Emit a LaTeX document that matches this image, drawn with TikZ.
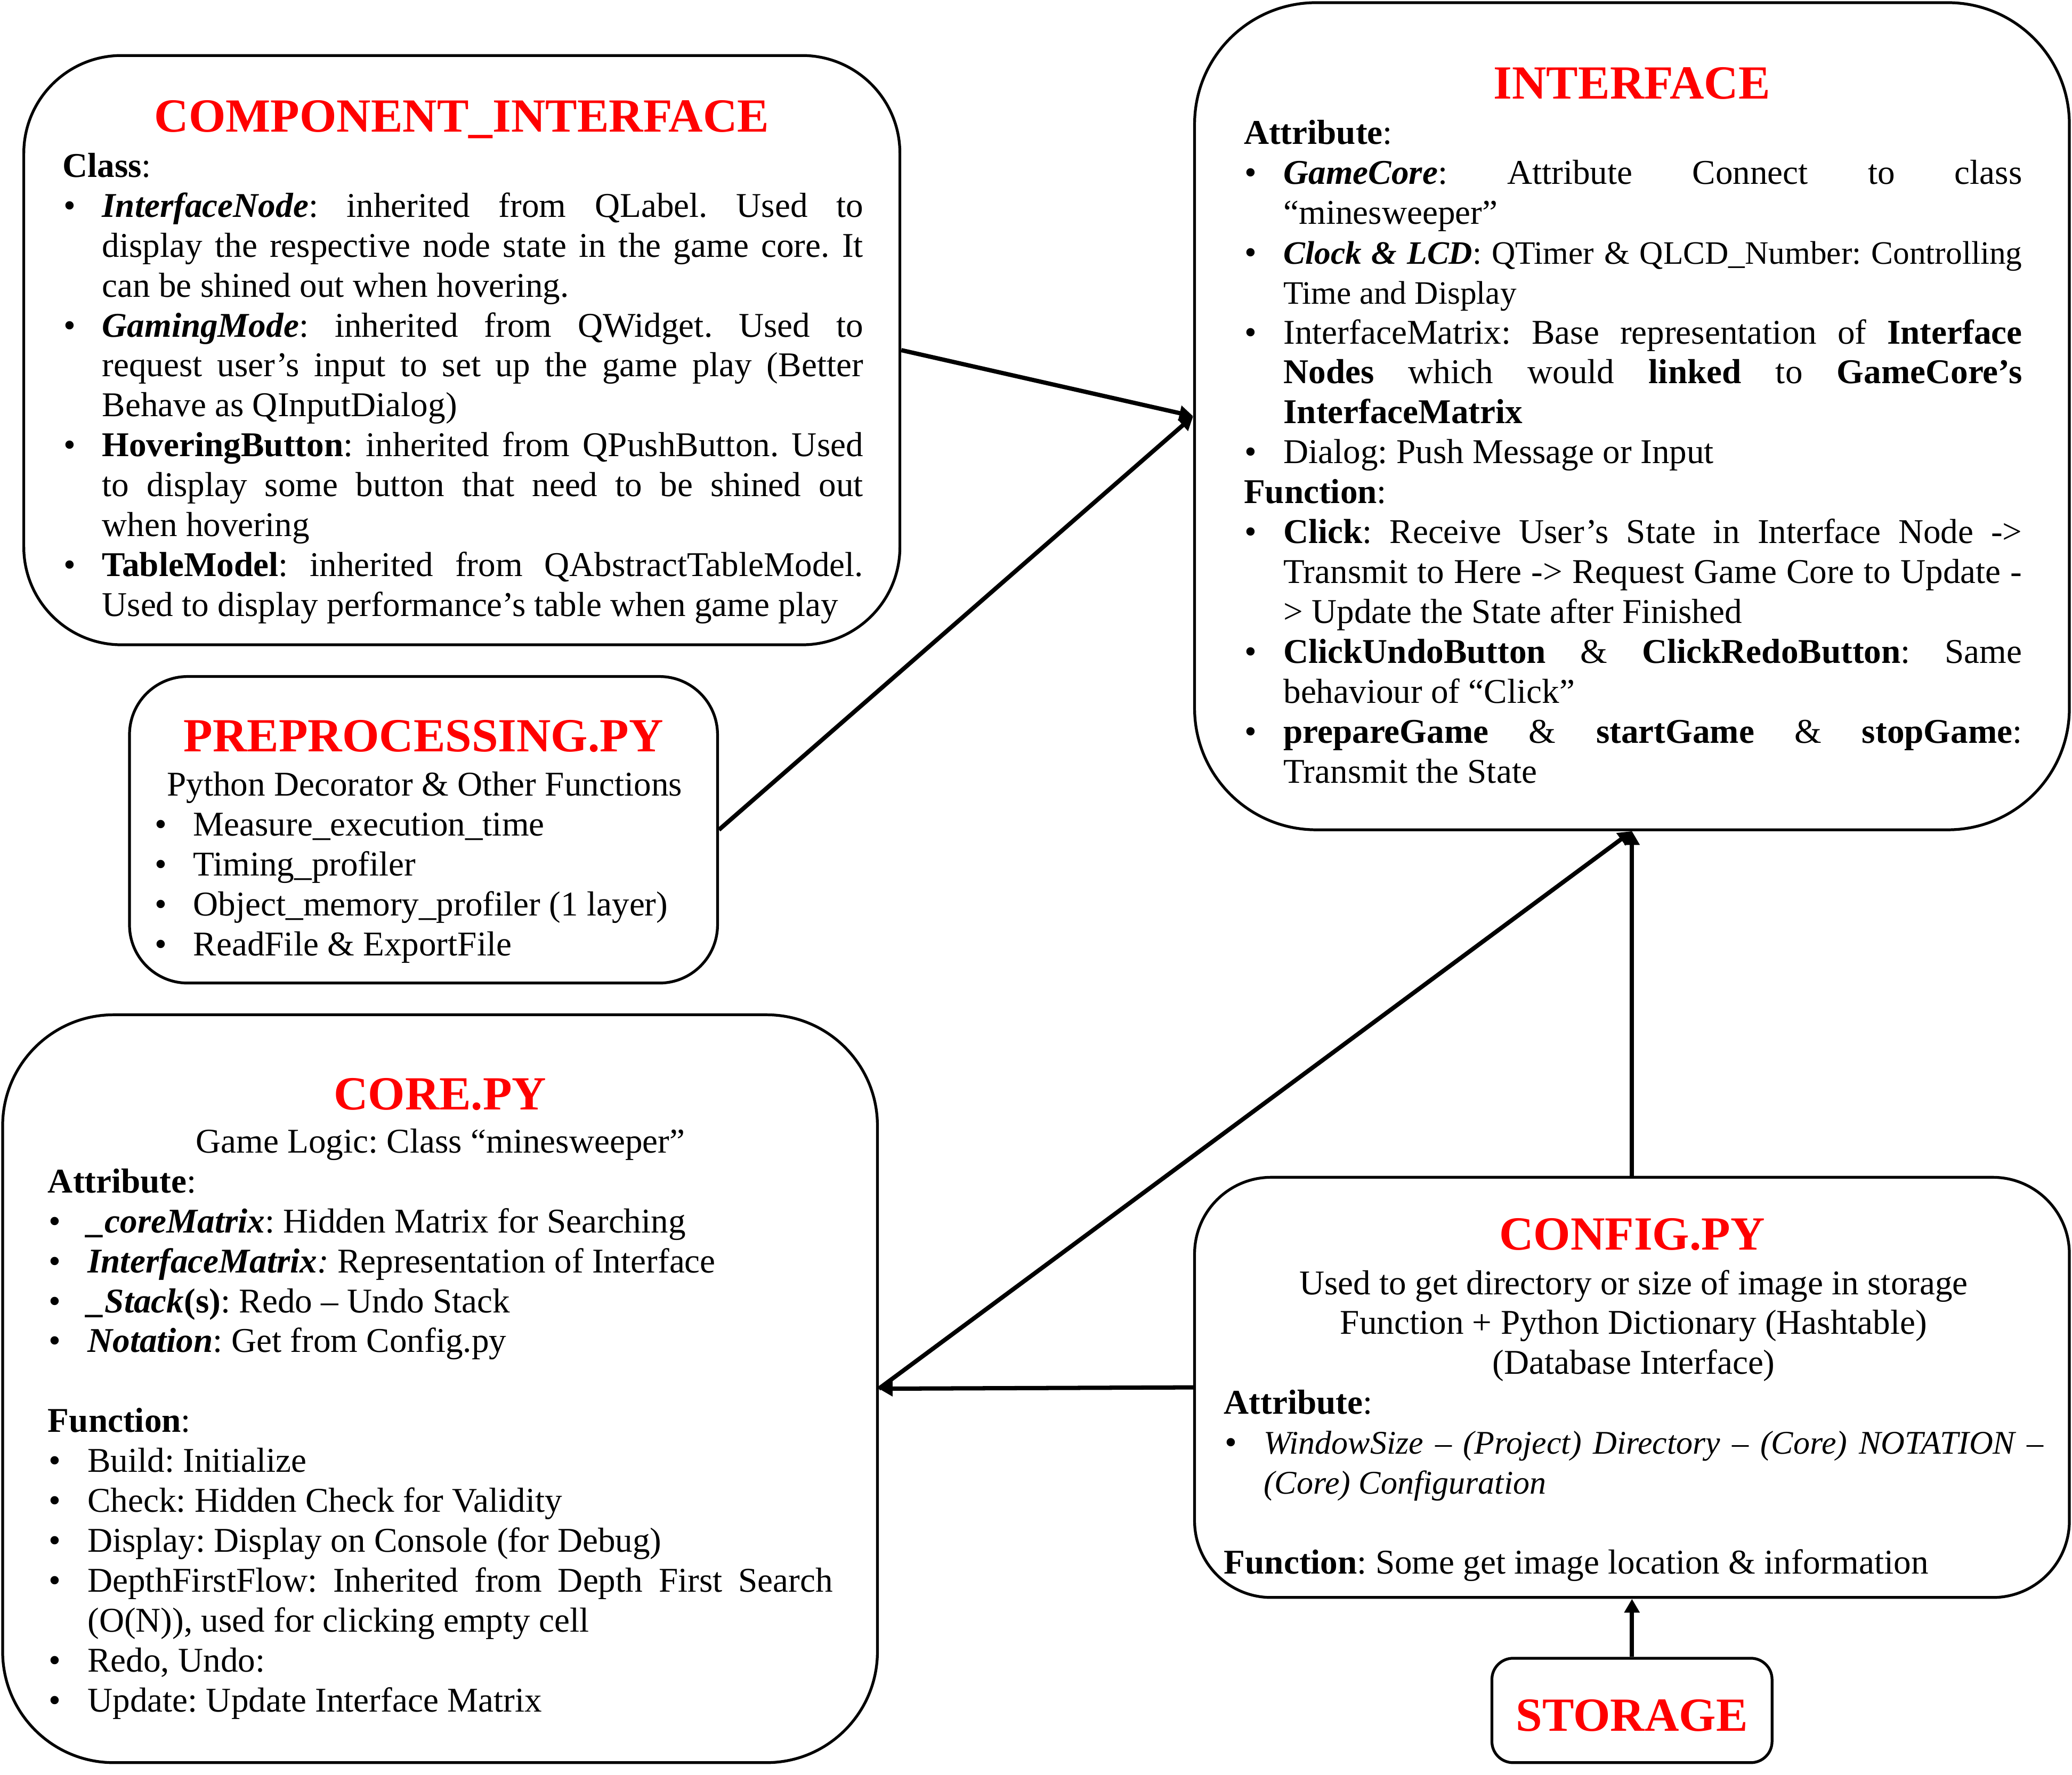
\documentclass[tikz,border=0pt]{standalone}
\usepackage{fontspec}
\setmainfont{Liberation Serif}
\usepackage{enumitem}
\usetikzlibrary{arrows.meta}

\setlist[itemize]{label=\textbullet, nosep, leftmargin=0.75cm, labelsep=0.5cm}
\newcommand{\bodysize}{\fontsize{18.7pt}{21.5pt}\selectfont}
\newcommand{\titlesize}{\fontsize{25.6pt}{30pt}\selectfont}
\tolerance=10000
\hbadness=10000
\hyphenpenalty=10000
\frenchspacing

\begin{document}
\begin{tikzpicture}[
    >={Triangle[length=0.26cm, width=0.28cm]},
    box/.style      = {draw=black, line width=1.5pt, rounded corners=#1,
                       inner sep=0pt},
    box/.default    = 1.8cm,
    boxtitle/.style = {font=\titlesize\bfseries, text=red, anchor=base,
                       inner sep=0pt},
    boxtext/.style  = {font=\bodysize, align=justify, anchor=base west,
                       inner sep=0pt},
    link/.style     = {->, line width=2.3pt}
  ]

\useasboundingbox (0,0) rectangle (39.2,-33.575);

% =========================================================
% COMPONENT_INTERFACE (top left)
% =========================================================
\node[box=1.85cm, minimum width=16.575cm, minimum height=11.15cm]
  (ci) at (8.7375,-6.625) {};
\node[boxtitle] (ci-title) at (8.7375,-2.5) {COMPONENT\_INTERFACE};
\node[boxtext, text width=15.15cm] (ci-text) at (1.175,-3.35) {%
  \textbf{Class}:
  \begin{itemize}
    \item \textbf{\textit{InterfaceNode}}: inherited from QLabel. Used to\linebreak
      display the respective node state in the game core. It\linebreak
      can be shined out when hovering.
    \item \textbf{\textit{GamingMode}}: inherited from QWidget. Used to\linebreak
      request user's input to set up the game play (Better\linebreak
      Behave as QInputDialog)
    \item \textbf{HoveringButton}: inherited from QPushButton. Used\linebreak
      to display some button that need to be shined out\linebreak
      when hovering
    \item \textbf{TableModel}: inherited from QAbstractTableModel.\linebreak
      Used to display performance's table when game play
  \end{itemize}};

% =========================================================
% PREPROCESSING.PY (middle left)
% =========================================================
\node[box=1.1cm, minimum width=11.125cm, minimum height=5.8cm]
  (prep) at (8.0125,-15.7) {};
\node[boxtitle] (prep-title) at (8.0125,-14.225) {PREPROCESSING.PY};
\node[boxtext, text width=10.25cm] (prep-text) at (2.9,-15.06) {%
  {\centering Python Decorator \& Other Functions\par}
  \begin{itemize}
    \item Measure\_execution\_time
    \item Timing\_profiler
    \item Object\_memory\_profiler (1 layer)
    \item ReadFile \& ExportFile
  \end{itemize}};

% =========================================================
% CORE.PY (bottom left)
% =========================================================
\node[box=2.1cm, minimum width=16.55cm, minimum height=14.15cm]
  (core) at (8.325,-26.275) {};
\node[boxtitle] (core-title) at (8.325,-21.0) {CORE.PY};
\node[boxtext, text width=14.85cm] (core-text) at (0.9,-21.81) {%
  {\centering Game Logic: Class “minesweeper”\par}
  \textbf{Attribute}:
  \begin{itemize}
    \item \textbf{\textit{\_coreMatrix}}: Hidden Matrix for Searching
    \item \textbf{\textit{InterfaceMatrix}}\textit{:} Representation of Interface
    \item \textbf{\textit{\_Stack}}\textbf{(s)}: Redo – Undo Stack
    \item \textbf{\textit{Notation}}: Get from Config.py
  \end{itemize}
  \vspace{21.5pt}
  \textbf{Function}:
  \begin{itemize}
    \item Build: Initialize
    \item Check: Hidden Check for Validity
    \item Display: Display on Console (for Debug)
    \item DepthFirstFlow: Inherited from Depth First Search\linebreak
      (O(N)), used for clicking empty cell
    \item Redo, Undo:
    \item Update: Update Interface Matrix
  \end{itemize}};

% =========================================================
% INTERFACE (top right)
% =========================================================
\node[box=2.3cm, minimum width=16.55cm, minimum height=15.65cm]
  (iface) at (30.875,-7.875) {};
\node[boxtitle] (iface-title) at (30.875,-1.875) {INTERFACE};
\node[boxtext, text width=14.725cm] (iface-text) at (23.525,-2.725) {%
  \textbf{Attribute}:
  \begin{itemize}
    \item \textbf{\textit{GameCore}}: Attribute Connect to class\linebreak
      “minesweeper”
    \item {\fontsize{17.6pt}{21.5pt}\selectfont \textbf{\textit{Clock \& LCD}}:
      QTimer \& QLCD\_Number: Controlling\linebreak Time and Display}
    \item InterfaceMatrix: Base representation of \textbf{Interface}\linebreak
      \textbf{Nodes} which would \textbf{linked} to \textbf{GameCore's}\linebreak
      \textbf{InterfaceMatrix}
    \item Dialog: Push Message or Input
  \end{itemize}
  \textbf{Function}:
  \begin{itemize}
    \item \textbf{Click}: Receive User's State in Interface Node ->\linebreak
      Transmit to Here -> Request Game Core to Update -\linebreak
      > Update the State after Finished
    \item \textbf{ClickUndoButton} \& \textbf{ClickRedoButton}: Same\linebreak
      behaviour of “Click”
    \item \textbf{prepareGame} \& \textbf{startGame} \& \textbf{stopGame}:\linebreak
      Transmit the State
  \end{itemize}};

% =========================================================
% CONFIG.PY (bottom right)
% =========================================================
\node[box=1.45cm, minimum width=16.55cm, minimum height=7.95cm]
  (config) at (30.875,-26.25) {};
\node[boxtitle] (config-title) at (30.875,-23.65) {CONFIG.PY};
\node[boxtext, text width=15.5cm] (config-text) at (23.15,-24.49) {%
  {\centering Used to get directory or size of image in storage\\
   Function + Python Dictionary (Hashtable)\\
   (Database Interface)\par}
  \textbf{Attribute}:
  \begin{itemize}
    \item {\fontsize{17.8pt}{21.5pt}\selectfont\itshape WindowSize – (Project)
      Directory – (Core) NOTATION –\linebreak (Core) Configuration}
  \end{itemize}
  \vspace{21.5pt}
  \textbf{Function}: Some get image location \& information};

% =========================================================
% STORAGE (bottom)
% =========================================================
\node[box=0.4cm, minimum width=5.3cm, minimum height=1.975cm]
  (storage) at (30.875,-32.3625) {};
\node[boxtitle] (storage-title) at (30.875,-32.75) {STORAGE};

% =========================================================
% Links between the modules
% =========================================================
\draw[link] (ci.east) -- (iface.west);
\draw[link] (prep.east) -- (iface.west);
\draw[link] (config.north) -- (iface.south);
\draw[link] (core.east) -- (iface.south);
\draw[link] (config.west) -- (core.east);
\draw[link] (storage.north) -- (config.south);

\end{tikzpicture}
\end{document}
